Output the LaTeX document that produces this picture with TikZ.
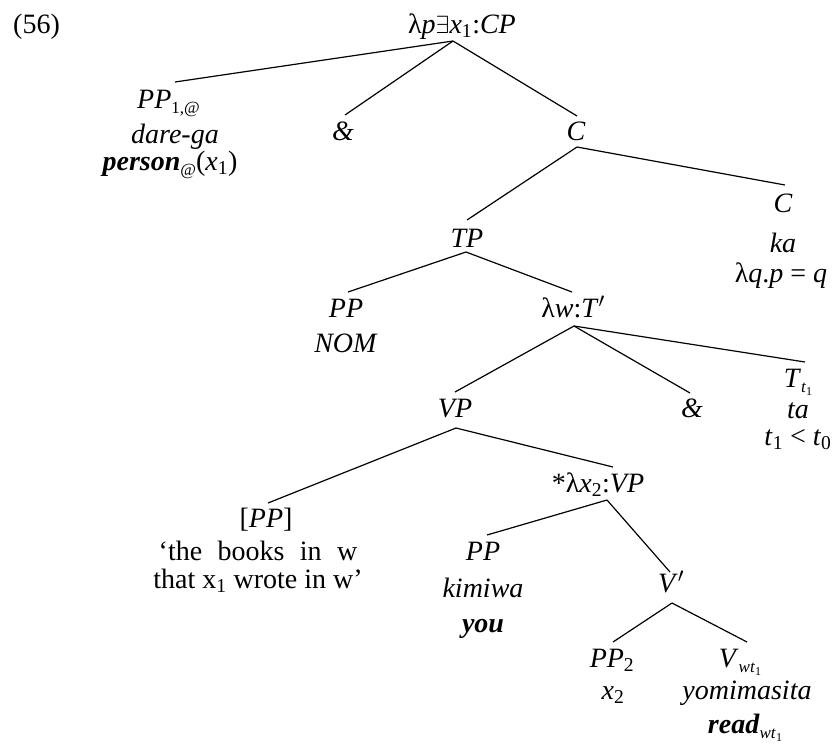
\documentclass[tikz,border=0pt]{standalone}
\usepackage{fontspec}
\setmainfont{Liberation Serif}
\newcommand\mysub[1]{\raisebox{-5pt}{\fontsize{17}{17}\selectfont #1}}
\newcommand\mysubsub[1]{\raisebox{-3pt}{\fontsize{12}{12}\selectfont #1}}
\begin{document}
\begin{tikzpicture}[x=1pt,y=-1pt,
  lab/.style={anchor=base,inner sep=0pt,font=\fontsize{28}{34}\selectfont},
  edge/.style={line width=1.2pt}]
\useasboundingbox (0,0) rectangle (837,745);
% labels
\node[lab,anchor=base west] (num) at (13,33) {(56)};
\node[lab] (root) at (462,33) {λ\textit{p}$\exists$\textit{x}\textsubscript{1}:\textit{CP}};
\node[lab] (pp1) at (168.5,108) {\textit{PP}\mysub{1,@}};
\node[lab] (darega) at (175,143) {\textit{dare-ga}};
\node[lab] (person) at (170,170) {\textbf{\textit{person}}\mysub{@}(\textit{x}\textsubscript{1})};
\node[lab] (amp1) at (343,140) {\textit{\&}};
\node[lab] (c1) at (576,140) {\textit{C}};
\node[lab] (c2) at (783,212) {\textit{C}};
\node[lab] (ka) at (783,252) {\textit{ka}};
\node[lab] (lq) at (781,282) {λ\textit{q}.\textit{p} = \textit{q}};
\node[lab] (tp) at (467,247) {\textit{TP}};
\node[lab] (ppnom) at (346,317) {\textit{PP}};
\node[lab] (nom) at (346,352) {\textit{NOM}};
\node[lab] (lw) at (573,317) {λ\textit{w}:\textit{T}$'$};
\node[lab] (vp) at (455,417) {\textit{VP}};
\node[lab] (amp2) at (692,417) {\textit{\&}};
\node[lab] (tt) at (798,387) {\textit{T}\mysub{\textit{t}\mysubsub{1}}};
\node[lab] (ta) at (798,418) {\textit{ta}};
\node[lab] (tlt) at (798,445) {\textit{t}\textsubscript{1} < \textit{t}\textsubscript{0}};
\node[lab] (bpp) at (266,527) {[\textit{PP}]};
\node[lab] (books) at (258,560) {‘the\hspace{0.55em}books\hspace{0.55em}in\hspace{0.55em}w};
\node[lab] (wrote) at (258,588) {that x\textsubscript{1} wrote in w’};
\node[lab] (lx) at (598,492) {*λ\textit{x}\textsubscript{2}:\textit{VP}};
\node[lab] (ppk) at (483,560) {\textit{PP}};
\node[lab] (kimiwa) at (483,597) {\textit{kimiwa}};
\node[lab] (you) at (483,632) {\textbf{\textit{you}}};
\node[lab] (vbar) at (671,592) {\textit{V}$'$};
\node[lab] (pp2) at (612,667) {\textit{PP}\textsubscript{2}};
\node[lab] (vw) at (740,667) {\textit{V}\mysub{\textit{wt}\mysubsub{1}}};
\node[lab] (x2) at (613,699) {\textit{x}\textsubscript{2}};
\node[lab] (yomi) at (747,699) {\textit{yomimasita}};
\node[lab] (read) at (745,733) {\textbf{\textit{read}}\mysub{\textit{wt}\mysubsub{1}}};
% connectors
\draw[edge] ([xshift=-9pt,yshift=-8pt]root.base) -- ([xshift=6.5pt,yshift=26pt]pp1.base);
\draw[edge] ([xshift=-9pt,yshift=-8pt]root.base) -- ([xshift=2pt,yshift=25pt]amp1.base);
\draw[edge] ([xshift=-9pt,yshift=-8pt]root.base) -- ([xshift=1pt,yshift=24pt]c1.base);
\draw[edge] ([xshift=1pt,yshift=-7pt]c1.base) -- ([yshift=27pt]tp.base);
\draw[edge] ([xshift=1pt,yshift=-7pt]c1.base) -- ([xshift=2pt,yshift=27pt]c2.base);
\draw[edge] ([xshift=-1pt,yshift=-5pt]tp.base) -- ([xshift=2pt,yshift=25pt]ppnom.base);
\draw[edge] ([xshift=-1pt,yshift=-5pt]tp.base) -- ([xshift=-1pt,yshift=25pt]lw.base);
\draw[edge] ([xshift=1pt,yshift=-9pt]lw.base) -- ([yshift=25pt]vp.base);
\draw[edge] ([xshift=1pt,yshift=-9pt]lw.base) -- ([xshift=-2pt,yshift=24pt]amp2.base);
\draw[edge] ([xshift=1pt,yshift=-9pt]lw.base) -- ([xshift=7pt,yshift=25pt]tt.base);
\draw[edge] ([xshift=1pt,yshift=-11pt]vp.base) -- ([xshift=2pt,yshift=24pt]bpp.base);
\draw[edge] ([xshift=1pt,yshift=-11pt]vp.base) -- ([xshift=15pt,yshift=25pt]lx.base);
\draw[edge] ([xshift=9pt,yshift=-8pt]lx.base) -- ([xshift=4pt,yshift=25pt]ppk.base);
\draw[edge] ([xshift=9pt,yshift=-8pt]lx.base) -- ([xshift=-1pt,yshift=20pt]vbar.base);
\draw[edge] ([xshift=1pt,yshift=-11pt]vbar.base) -- ([xshift=1pt,yshift=25pt]pp2.base);
\draw[edge] ([xshift=1pt,yshift=-11pt]vbar.base) -- ([xshift=7pt,yshift=25pt]vw.base);
\end{tikzpicture}
\end{document}
